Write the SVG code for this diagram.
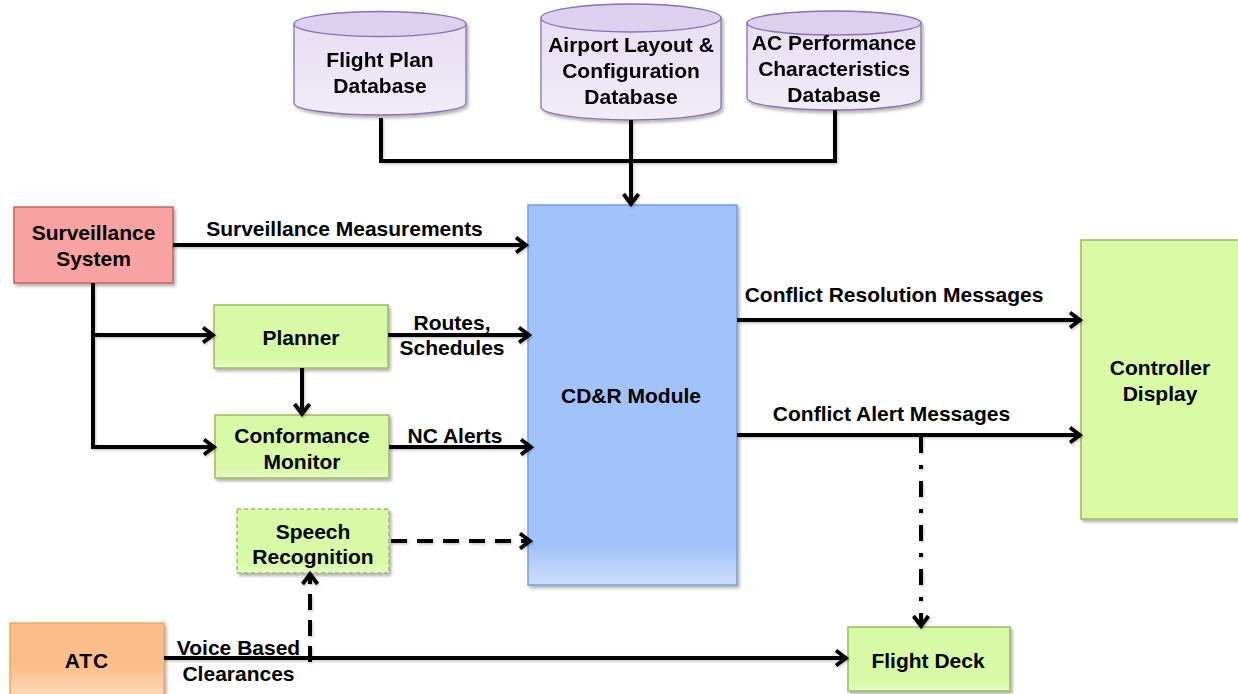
<svg xmlns="http://www.w3.org/2000/svg" width="1238" height="694" viewBox="0 0 1238 694">
  <style>
    text { font-family: "Liberation Sans", Arial, sans-serif; font-weight: bold; font-size: 21px; fill: #000; text-anchor: middle; }
    .db-body { fill: url(#dbGrad); stroke: #8d6fb0; stroke-width: 1.3; }
    .db-top { fill: #ddd0ee; stroke: #8d6fb0; stroke-width: 1.3; }
    .green { fill: url(#greenGrad); stroke: #9bbb59; stroke-width: 1.5; }
    .wire { fill: none; stroke: #000; stroke-width: 4; }
    .arrow { marker-end: url(#chev); }
    .dash { stroke-dasharray: 16 10; }
    .dashdot { stroke-dasharray: 16 12 4 12; }
  </style>
  <defs>
    <filter id="shadow" x="-10%" y="-10%" width="125%" height="130%">
      <feDropShadow dx="2" dy="2.5" stdDeviation="1.5" flood-color="#000" flood-opacity="0.3"/>
    </filter>
    <filter id="lineShadow" x="-5%" y="-5%" width="110%" height="115%">
      <feDropShadow dx="1" dy="1.5" stdDeviation="1" flood-color="#000" flood-opacity="0.22"/>
    </filter>
    <linearGradient id="dbGrad" x1="0" y1="0" x2="0" y2="1">
      <stop offset="0" stop-color="#e7def2"/>
      <stop offset="1" stop-color="#f1ecf8"/>
    </linearGradient>
    <linearGradient id="greenGrad" x1="0" y1="0" x2="0" y2="1">
      <stop offset="0" stop-color="#d8f9a6"/>
      <stop offset="0.85" stop-color="#d8f9a6"/>
      <stop offset="1" stop-color="#e6fbc6"/>
    </linearGradient>
    <linearGradient id="blueGrad" x1="0" y1="0" x2="0" y2="1">
      <stop offset="0" stop-color="#a2c3fa"/>
      <stop offset="0.9" stop-color="#a2c3fa"/>
      <stop offset="1" stop-color="#cddffc"/>
    </linearGradient>
    <linearGradient id="orangeGrad" x1="0" y1="0" x2="0" y2="1">
      <stop offset="0" stop-color="#fbbe8b"/>
      <stop offset="0.55" stop-color="#fbbe8b"/>
      <stop offset="1" stop-color="#fde0c6"/>
    </linearGradient>
    <marker id="chev" viewBox="0 0 16 20" refX="13" refY="10" markerWidth="16" markerHeight="20" markerUnits="userSpaceOnUse" orient="auto">
      <path d="M3,2.5 L13,10 L3,17.5" fill="none" stroke="#000" stroke-width="3.8" stroke-dasharray="none"/>
    </marker>
  </defs>

  <!-- databases -->
  <g id="flight-plan-db" filter="url(#shadow)">
    <path class="db-body" d="M294,24 L294,103 A86,12 0 0 0 466,103 L466,24 Z"/>
    <ellipse class="db-top" cx="380" cy="24" rx="86" ry="12.5"/>
    <text x="380" y="67">Flight Plan</text>
    <text x="380" y="93">Database</text>
  </g>
  <g id="airport-db" filter="url(#shadow)">
    <path class="db-body" d="M541,18 L541,107 A90,13 0 0 0 721,107 L721,18 Z"/>
    <ellipse class="db-top" cx="631" cy="18" rx="90" ry="14"/>
    <text x="631" y="52">Airport Layout &amp;</text>
    <text x="631" y="78">Configuration</text>
    <text x="631" y="104">Database</text>
  </g>
  <g id="ac-performance-db" filter="url(#shadow)">
    <path class="db-body" d="M747,23 L747,98 A87,12 0 0 0 921,98 L921,23 Z"/>
    <ellipse class="db-top" cx="834" cy="23" rx="87" ry="12"/>
    <text x="834" y="50">AC Performance</text>
    <text x="834" y="76">Characteristics</text>
    <text x="834" y="102">Database</text>
  </g>

  <!-- processing nodes -->
  <g id="cdr-module">
    <rect x="528" y="205" width="209" height="380" fill="url(#blueGrad)" stroke="#6f9fe6" stroke-width="1.5" filter="url(#shadow)"/>
    <text x="631" y="403">CD&amp;R Module</text>
  </g>
  <g id="surveillance-system">
    <rect x="14" y="207" width="159" height="76" fill="#f8a3a2" stroke="#c9605c" stroke-width="1.5" filter="url(#shadow)"/>
    <text x="93.5" y="240">Surveillance</text>
    <text x="93.5" y="266">System</text>
  </g>
  <g id="planner">
    <rect class="green" x="214" y="305" width="174" height="63" filter="url(#shadow)"/>
    <text x="301" y="345">Planner</text>
  </g>
  <g id="conformance-monitor">
    <rect class="green" x="215" y="415" width="174" height="63" filter="url(#shadow)"/>
    <text x="302" y="443">Conformance</text>
    <text x="302" y="469">Monitor</text>
  </g>
  <g id="speech-recognition">
    <rect class="green" x="237" y="509" width="152" height="64" stroke-dasharray="4 3" stroke-width="1.2" filter="url(#shadow)"/>
    <text x="313" y="539">Speech</text>
    <text x="313" y="564">Recognition</text>
  </g>
  <g id="atc">
    <rect x="10" y="623" width="154" height="80" fill="url(#orangeGrad)" stroke="#f5a35f" stroke-width="1.5" filter="url(#shadow)"/>
    <text x="87" y="668" letter-spacing="1">ATC</text>
  </g>
  <g id="controller-display">
    <rect x="1081" y="240" width="170" height="279" fill="#d9fba6" stroke="#9bbb59" stroke-width="1.5" filter="url(#shadow)"/>
    <text x="1160" y="375">Controller</text>
    <text x="1160" y="401">Display</text>
  </g>
  <g id="flight-deck">
    <rect class="green" x="848" y="627" width="162" height="64" filter="url(#shadow)"/>
    <text x="928" y="668">Flight Deck</text>
  </g>

  <!-- connectors -->
  <g id="connectors" filter="url(#lineShadow)">
    <path class="wire" d="M381,118 L381,161 L835,161 L835,110"/>
    <path class="wire arrow" d="M631,120 L631,204"/>
    <path class="wire arrow" d="M173,245 L526,245"/>
    <path class="wire" d="M93,283 L93,447"/>
    <path class="wire arrow" d="M91,335 L213,335"/>
    <path class="wire arrow" d="M91,447 L214,447"/>
    <path class="wire arrow" d="M302,368 L302,414"/>
    <path class="wire arrow" d="M388,335 L529,335"/>
    <path class="wire arrow" d="M389,447 L531,447"/>
    <path class="wire dash arrow" d="M391,541 L530,541"/>
    <path class="wire dash arrow" d="M310,662 L310,574"/>
    <path class="wire arrow" d="M164,658 L846,658"/>
    <path class="wire arrow" d="M737,320 L1080,320"/>
    <path class="wire arrow" d="M737,435 L1080,435"/>
    <path class="wire dashdot arrow" d="M921,437 L921,626"/>
  </g>

  <!-- connector labels -->
  <g id="connector-labels">
    <text x="344.5" y="236">Surveillance Measurements</text>
    <text x="452" y="330">Routes,</text>
    <text x="452" y="355">Schedules</text>
    <text x="455" y="443">NC Alerts</text>
    <text x="238.5" y="655">Voice Based</text>
    <text x="238.5" y="681">Clearances</text>
    <text x="894" y="302">Conflict Resolution Messages</text>
    <text x="891.5" y="421">Conflict Alert Messages</text>
  </g>
</svg>
